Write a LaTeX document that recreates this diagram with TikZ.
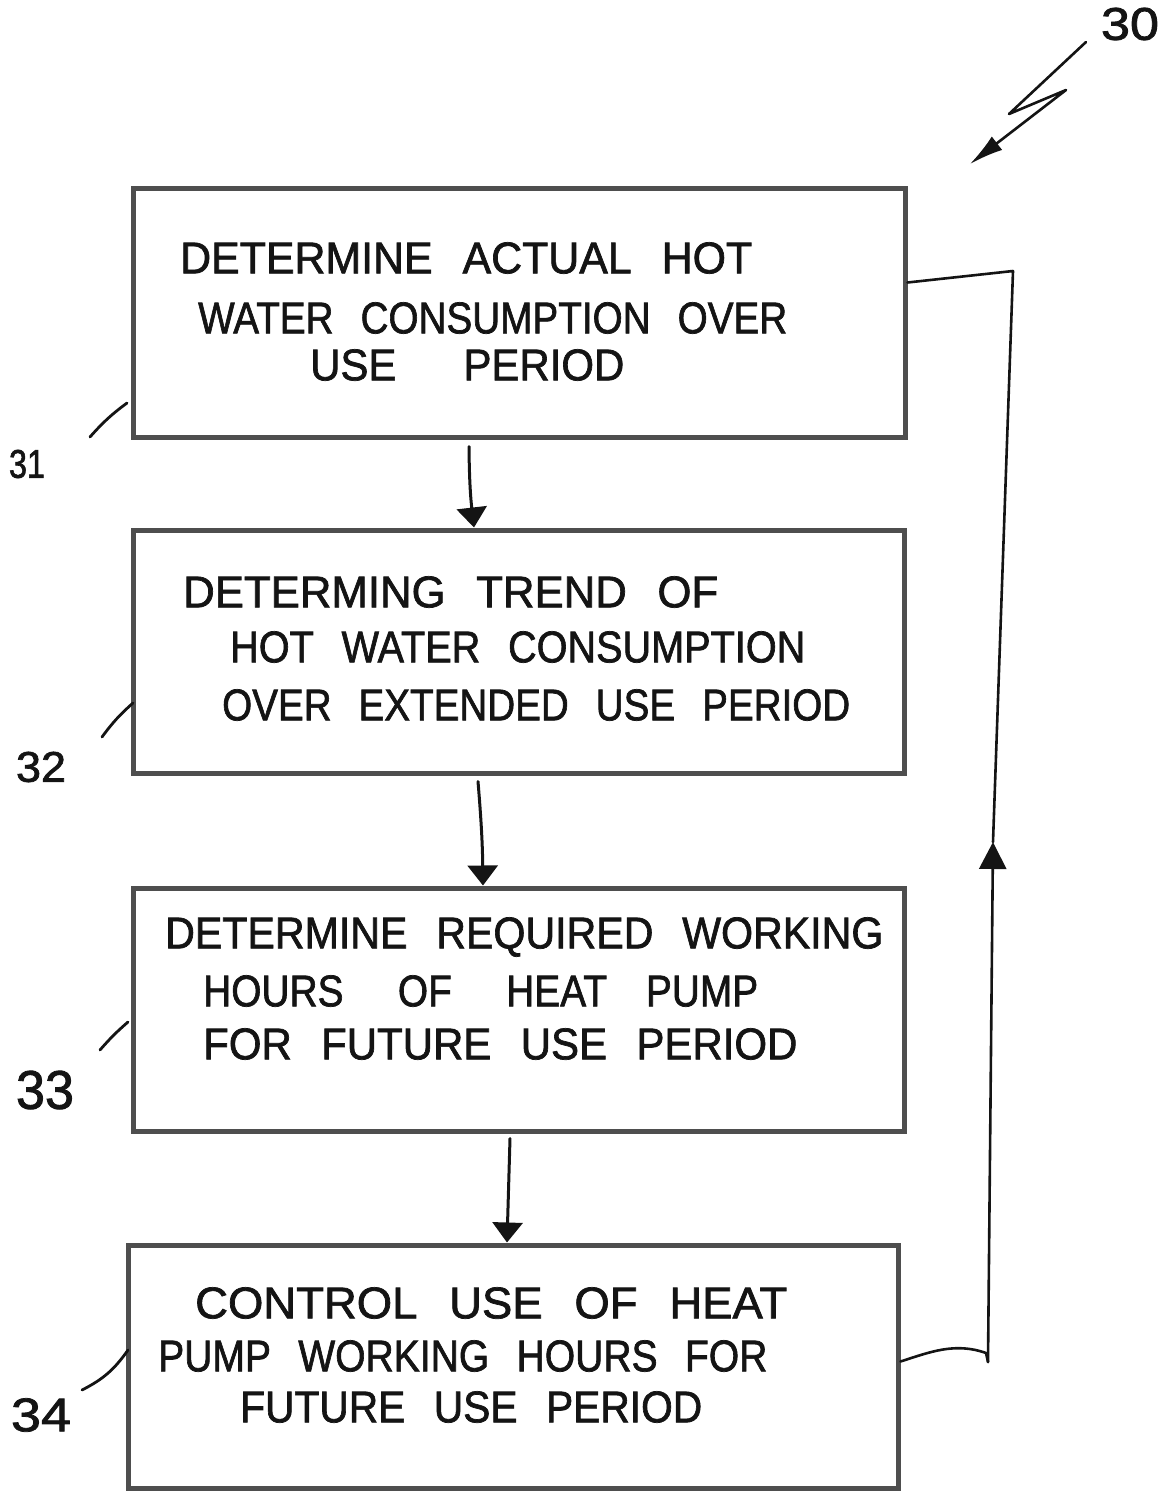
\documentclass[tikz,border=0pt]{standalone}
\usepackage{fontspec}
\setmainfont{Liberation Sans}
\newfontfamily\handfont[FakeBold=1.6]{Liberation Sans}
\usepackage{graphicx}
\usetikzlibrary{arrows.meta}

% one hand-lettered line, stretched to a given width and cap height
\newcommand{\hwline}[3][31]{\resizebox{#2pt}{#1pt}{\handfont #3}}
\newcommand{\ws}{\hspace{0.7em}}

\definecolor{boxgray}{RGB}{78,78,78}
\definecolor{ink}{RGB}{20,20,20}

\begin{document}
\begin{tikzpicture}[x=1pt,y=-1pt,
  stepbox/.style={draw=boxgray, line width=5pt, rectangle, inner sep=0pt},
  txt/.style={anchor=west, inner sep=0pt, text=ink},
  reflabel/.style={inner sep=0pt, text=ink},
  flow/.style={draw=ink, line width=3pt, line cap=round,
    -{Triangle[length=20pt,width=30pt]}},
  upflow/.style={draw=ink, line width=2.6pt, line cap=round,
    -{Triangle[length=27pt,width=27pt]}},
  loopline/.style={draw=ink, line width=2.6pt, line cap=round, line join=round},
  leader/.style={draw=ink, line width=2.8pt, line cap=round},
  pointer/.style={draw=ink, line width=2.6pt, line cap=round, line join=round,
    -{Latex[length=34pt,width=17pt]}}]

\useasboundingbox (0,0) rectangle (1175,1492);

% process boxes
\node[stepbox, minimum width=772pt, minimum height=249pt] (b1) at (519,312.5) {};
\node[stepbox, minimum width=771pt, minimum height=243pt] (b2) at (518.5,651.5) {};
\node[stepbox, minimum width=771pt, minimum height=243pt] (b3) at (518.5,1009.5) {};
\node[stepbox, minimum width=770pt, minimum height=243pt] (b4) at (513,1366.5) {};

% box texts
\node[txt] (t11) at (180,258) {\hwline{572}{DETERMINE\ws ACTUAL\ws HOT}};
\node[txt] (t12) at (198,318) {\hwline{589}{WATER\ws CONSUMPTION\ws OVER}};
\node[txt] (t13) at (310,365) {\hwline{314}{USE\hspace{1.6em}PERIOD}};

\node[txt] (t21) at (183,592) {\hwline{535}{DETERMING\ws TREND\ws OF}};
\node[txt] (t22) at (230,647) {\hwline{575}{HOT\ws WATER\ws CONSUMPTION}};
\node[txt] (t23) at (222,705) {\hwline{628}{OVER\ws EXTENDED\ws USE\ws PERIOD}};

\node[txt] (t31) at (165,937) {\hwline{718}{DETERMINE\ws REQUIRED\ws WORKING}};
\node[txt] (t32) at (203,991) {\hwline{555}{HOURS\hspace{1.4em}OF\hspace{1.4em}HEAT\hspace{1em}PUMP}};
\node[txt] (t33) at (203,1044) {\hwline{594}{FOR\ws FUTURE\ws USE\ws PERIOD}};

\node[txt] (t41) at (195,1303) {\hwline{592}{CONTROL\ws USE\ws OF\ws HEAT}};
\node[txt] (t42) at (158,1356) {\hwline{609}{PUMP\ws WORKING\ws HOURS\ws FOR}};
\node[txt] (t43) at (240,1407) {\hwline{462}{FUTURE\ws USE\ws PERIOD}};

% reference numerals
\node[reflabel] (n30) at (1130,24) {\hwline[32]{58}{30}};
\node[reflabel] (n31) at (27,464) {\hwline[28]{36}{31}};
\node[reflabel] (n32) at (41,767) {\hwline[30]{50}{32}};
\node[reflabel] (n33) at (45,1090) {\hwline[38]{58}{33}};
\node[reflabel] (n34) at (41,1415) {\hwline[33]{60}{34}};

% leader lines from numerals to boxes
\coordinate (l31a) at (90,437);  \coordinate (l31b) at (127,403);
\coordinate (l32a) at (102,737); \coordinate (l32b) at (133,703);
\coordinate (l33a) at (100,1050);\coordinate (l33b) at (128,1022);
\coordinate (l34a) at (82,1390); \coordinate (l34b) at (128,1350);
\draw[leader] (l31a) to[bend left=6] (l31b);
\draw[leader] (l32a) to[bend left=6] (l32b);
\draw[leader] (l33a) to[bend left=4] (l33b);
\draw[leader] (l34a) to[bend right=14] (l34b);

% zig-zag pointer of numeral 30
\coordinate (p1) at (1086,42);
\coordinate (p2) at (1009,114);
\coordinate (p3) at (1066,90);
\coordinate (p4) at (970,164);
\draw[pointer] (p1) -- (p2) -- (p3) -- (p4);

% downward flow between steps
\draw[flow] ([xshift=-50pt,yshift=-7pt]b1.south) to[bend right=3] ([xshift=-44.5pt]b2.north);
\draw[flow] ([xshift=-40.5pt,yshift=-6pt]b2.south) to[bend left=2] ([xshift=-35.5pt]b3.north);
\draw[flow] ([xshift=-8.5pt,yshift=-5pt]b3.south) -- ([xshift=-6pt]b4.north);

% feedback loop from the last step back to the first
\coordinate (r0) at (986,1353);
\coordinate (r1) at (988,1362);
\coordinate (rmid) at (993,842);
\coordinate (r2) at (1013,271);
\draw[loopline] ([yshift=5pt]b4.east) .. controls (930,1352) and (955,1342) .. (r0) -- (r1);
\draw[upflow] (r1) -- (rmid);
\draw[loopline] (rmid) -- (r2) -- ([yshift=30pt]b1.east);

\end{tikzpicture}
\end{document}
